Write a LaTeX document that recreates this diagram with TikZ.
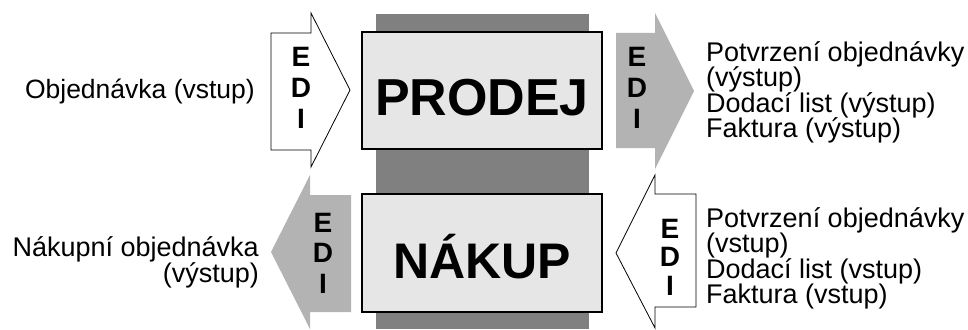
\documentclass[tikz,border=0pt]{standalone}
\usepackage{fontspec}
\setmainfont{Liberation Sans}
\definecolor{bargray}{HTML}{808080}
\definecolor{boxgray}{HTML}{E6E6E6}
\definecolor{arrgray}{HTML}{B3B3B3}
\begin{document}
\begin{tikzpicture}[x=1pt,y=-1pt,
  procbox/.style={draw=black,line width=1.5pt,fill=boxgray,minimum width=240pt,inner sep=0pt,
    font=\fontsize{52}{52}\selectfont\bfseries},
  whitearrow/.style={draw=black,line width=0.8pt,fill=white},
  grayarrow/.style={fill=arrgray},
  edi/.style={inner sep=0pt,align=center,anchor=base,font=\fontsize{28}{#1}\selectfont\bfseries},
  doc/.style={inner sep=0pt,font=\fontsize{27}{25.5}\selectfont}
]
\useasboundingbox (0,0) rectangle (968,329);
% central bar
\fill[bargray] (376,14) rectangle (589,329);
% process boxes
\node[procbox,minimum height=117pt,text height=49pt,text depth=0pt] (prodej) at (482,90.5) {PRODEJ};
\node[procbox,minimum height=118pt,text height=51pt,text depth=0pt,font=\fontsize{50}{50}\selectfont\bfseries] (nakup) at (482,253) {NÁKUP};
% arrows
\draw[whitearrow] (271,33) -- (311,33) -- (311,13) -- (350,90) -- (311,167) -- (311,150) -- (271,150) -- cycle;
\fill[grayarrow] (616,33) -- (655,33) -- (655,13) -- (694,91) -- (655,169) -- (655,148) -- (616,148) -- cycle;
\fill[grayarrow] (351,195) -- (310,195) -- (310,175) -- (271,252) -- (310,329) -- (310,312) -- (351,312) -- cycle;
\draw[whitearrow] (696,194) -- (655,194) -- (655,175) -- (616,253) -- (655,328) -- (655,307) -- (696,307) -- cycle;
% EDI labels (anchored at the baseline of the last line)
\node[edi=31] (edi1) at (301,128) {E\\D\\I};
\node[edi=31] (edi2) at (637,128) {E\\D\\I};
\node[edi=30.5] (edi3) at (323,293) {E\\D\\I};
\node[edi=28.5] (edi4) at (670,295) {E\\D\\I};
% texts (multi-line: anchored at the baseline of the last line)
\node[doc,anchor=base east,font=\fontsize{26.5}{25.5}\selectfont] (in1) at (255,98) {Objednávka (vstup)};
\node[doc,anchor=base east,align=right] (out2) at (259,282) {Nákupní objednávka\\(výstup)};
\node[doc,anchor=base west,align=left] (out1) at (706,137.5) {Potvrzení objednávky\\(výstup)\\Dodací list (výstup)\\Faktura (výstup)};
\node[doc,anchor=base west,align=left] (in2) at (706,303.5) {Potvrzení objednávky\\(vstup)\\Dodací list (vstup)\\Faktura (vstup)};
\end{tikzpicture}
\end{document}
